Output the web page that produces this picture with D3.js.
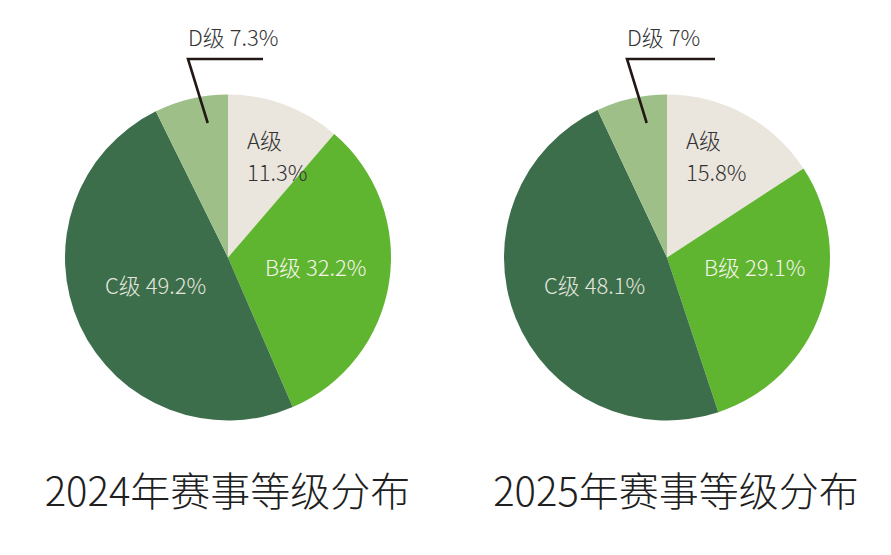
<!DOCTYPE html>
<html>
<head>
<meta charset="utf-8">
<script src="https://cdn.jsdelivr.net/npm/d3@7"></script>
<style>
  html, body { margin: 0; padding: 0; background: #ffffff; }
  svg { display: block; }
  text { font-family: "Noto Sans CJK SC", "Noto Sans", sans-serif; font-weight: 300; }
</style>
</head>
<body>
<svg id="chart" width="891" height="555"></svg>
<script>
// ---- data ----
const categories = ["A级", "B级", "C级", "D级"];
const years = ["2024", "2025"];
const shares2024 = [11.3, 32.2, 49.2, 7.3];
const shares2025 = [15.8, 29.1, 48.1, 7];
const titles = ["2024年赛事等级分布", "2025年赛事等级分布"];

// ---- layout / style ----
const W = 891, H = 555;
const radius = 163;
const centers = [[228, 257.5], [667, 257.5]];
const titleX = [227.5, 676];
const titleY = 506;
const leaderEndDx = [35, 48];
const colors = ["#EAE6DE", "#60B530", "#3D6E4B", "#9FBF89"];
const labelColors = ["#333333", "#F4F4EC", "#E4E6DE", "#333333"];

const svg = d3.select("#chart");
const colorScale = d3.scaleOrdinal().domain(categories).range(colors);
const textColor = d3.scaleOrdinal().domain(categories).range(labelColors);

const pie = d3.pie().sort(null).value(d => d.value);
const arc = d3.arc().innerRadius(0).outerRadius(radius);

const fmt = v => v + "%";

[shares2024, shares2025].forEach((vals, i) => {
  const data = categories.map((c, k) => ({ cat: c, value: vals[k] }));
  const [cx, cy] = centers[i];
  const g = svg.append("g").attr("transform", `translate(${cx},${cy})`);

  g.selectAll("path.slice")
    .data(pie(data))
    .join("path")
    .attr("class", "slice")
    .attr("d", arc)
    .attr("fill", d => colorScale(d.data.cat));

  const byCat = Object.fromEntries(data.map(d => [d.cat, d]));
  const fs = 22;

  // A label (two lines)
  const a = byCat["A级"];
  const ta = g.append("text").attr("x", 19).attr("font-size", fs).attr("fill", textColor("A级"));
  ta.append("tspan").attr("x", 19).attr("y", -108.5).text(a.cat);
  ta.append("tspan").attr("x", 19).attr("y", -77).text(fmt(a.value));

  // B label
  const b = byCat["B级"];
  g.append("text").attr("x", 37).attr("y", 18.5).attr("font-size", fs)
    .attr("fill", textColor("B级"))
    .text(b.cat + " " + fmt(b.value));

  // C label
  const c = byCat["C级"];
  g.append("text").attr("x", -123).attr("y", 36.5).attr("font-size", fs)
    .attr("fill", textColor("C级"))
    .text(c.cat + " " + fmt(c.value));

  // D label with leader line
  const d = byCat["D级"];
  g.append("text").attr("x", -40).attr("y", -211.5).attr("font-size", fs)
    .attr("fill", textColor("D级"))
    .text(d.cat + " " + fmt(d.value));

  g.append("path")
    .attr("d", d3.line()([[leaderEndDx[i], -198.5], [-40, -198.5], [-20.3, -134.5]]))
    .attr("fill", "none")
    .attr("stroke", "#231815")
    .attr("stroke-width", 2.6)
    .attr("stroke-linejoin", "miter");

  // Title
  svg.append("text")
    .attr("x", titleX[i]).attr("y", titleY)
    .attr("text-anchor", "middle")
    .attr("font-size", 40)
    .attr("fill", "#1f1f1f")
    .text(titles[i]);
});
</script>
</body>
</html>
